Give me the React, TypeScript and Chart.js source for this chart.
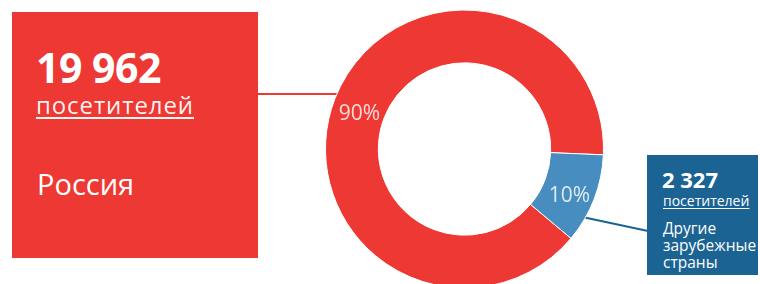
import React, { useEffect, useRef } from "react";
import { Chart, registerables } from "chart.js";

Chart.register(...registerables);

// ---- data ----
const categories = ["Россия", "Другие зарубежные страны"];
const visitors = [19962, 2327];
const unitLabel = "посетителей";

// ---- style ----
const RED = "#EE3833";
const BLUE = "#478DC0";
const DARK_BLUE = "#1A6393";
const FONT = "'Open Sans', 'Noto Sans', sans-serif";

const fmt = (n: number) => n.toString().replace(/\B(?=(\d{3})+(?!\d))/g, " ");

const total = visitors.reduce((a, b) => a + b, 0);
const pctLabels = visitors.map((v) => Math.round((v / total) * 100) + "%");

const labelsAndLines = {
  id: "labelsAndLines",
  beforeDatasetsDraw(chart: any) {
    const meta = chart.getDatasetMeta(0);
    const arc = meta.data[0];
    if (!arc) return;
    const { x: cx, y: cy, outerRadius: r } = arc.getProps(["x", "y", "outerRadius"], true);
    const ctx = chart.ctx;
    ctx.save();
    ctx.lineWidth = 2;
    // red connector: horizontal from the left box to the ring
    const yRed = 94;
    const xRed = cx - Math.sqrt(r * r - (cy - yRed) * (cy - yRed));
    ctx.strokeStyle = RED;
    ctx.beginPath();
    ctx.moveTo(258, yRed);
    ctx.lineTo(xRed + 3, yRed);
    ctx.stroke();
    // blue connector: from right box to ring
    const a = (30 * Math.PI) / 180;
    ctx.strokeStyle = DARK_BLUE;
    ctx.beginPath();
    ctx.moveTo(648, 231);
    ctx.lineTo(cx + Math.cos(a) * (r - 3), cy + Math.sin(a) * (r - 3));
    ctx.stroke();
    ctx.restore();
  },
  afterDatasetsDraw(chart: any) {
    const meta = chart.getDatasetMeta(0);
    const ctx = chart.ctx;
    ctx.save();
    ctx.font = "400 21px " + FONT;
    ctx.fillStyle = "rgba(255,255,255,0.82)";
    ctx.textAlign = "center";
    ctx.textBaseline = "middle";
    meta.data.forEach((el: any, i: number) => {
      const p = el.getProps(["x", "y", "startAngle", "endAngle", "innerRadius", "outerRadius"], true);
      const mid = (p.startAngle + p.endAngle) / 2;
      const rr = (p.innerRadius + p.outerRadius) / 2;
      ctx.fillText(pctLabels[i], p.x + Math.cos(mid) * rr, p.y + Math.sin(mid) * rr + 6);
    });
    ctx.restore();
  },
};

export default function App() {
  const ref = useRef<HTMLCanvasElement | null>(null);

  useEffect(() => {
    document.body.style.margin = "0";
    if (!ref.current) return;
    const chart = new Chart(ref.current, {
      type: "doughnut",
      data: {
        labels: categories,
        datasets: [
          {
            data: visitors,
            backgroundColor: [RED, BLUE],
            borderColor: "#ffffff",
            borderWidth: 1,
            hoverOffset: 0,
          },
        ],
      },
      options: {
        animation: false,
        responsive: false,
        devicePixelRatio: 1,
        cutout: "62%",
        rotation: 130,
        layout: { padding: { left: 325, right: 156, top: 9.5, bottom: 11.5 } },
        plugins: {
          legend: { display: false },
          tooltip: { enabled: false },
        },
      },
      plugins: [labelsAndLines],
    });
    return () => chart.destroy();
  }, []);

  const text = (extra: React.CSSProperties): React.CSSProperties => ({
    position: "absolute",
    color: "#ffffff",
    fontFamily: FONT,
    whiteSpace: "nowrap",
    ...extra,
  });

  const otherLines = categories[1].split(" ");

  return (
    <div style={{ position: "relative", width: 760, height: 284, overflow: "hidden", background: "#fff" }}>
      <canvas ref={ref} width={760} height={300} style={{ position: "absolute", left: 0, top: 0 }} />
      {/* left red box */}
      <div style={{ position: "absolute", left: 12, top: 12, width: 246, height: 246, background: RED }} />
      <div style={text({ left: 36, top: 47, fontSize: 41, lineHeight: "41px", fontWeight: 700, letterSpacing: "-0.5px" })}>
        {fmt(visitors[0])}
      </div>
      <div
        style={text({
          left: 36,
          top: 92.5,
          fontSize: 24,
          lineHeight: "24px",
          letterSpacing: "0.9px",
          textDecoration: "underline",
          textUnderlineOffset: "3px",
          textDecorationThickness: "1.5px",
          color: "rgba(255,255,255,0.95)",
        })}
      >
        {unitLabel}
      </div>
      <div style={text({ left: 37, top: 169, fontSize: 29, lineHeight: "29px" })}>{categories[0]}</div>

      {/* right blue box */}
      <div style={{ position: "absolute", left: 647, top: 155, width: 111, height: 120, background: DARK_BLUE }} />
      <div style={text({ left: 662, top: 168, fontSize: 22, lineHeight: "22px", fontWeight: 700 })}>{fmt(visitors[1])}</div>
      <div
        style={text({
          left: 663,
          top: 194,
          fontSize: 14,
          lineHeight: "14px",
          textDecoration: "underline",
          textUnderlineOffset: "2px",
        })}
      >
        {unitLabel}
      </div>
      <div style={text({ left: 663, top: 220, fontSize: 15.5, lineHeight: "17px" })}>
        {otherLines.map((w, i) => (
          <div key={i}>{w}</div>
        ))}
      </div>
    </div>
  );
}
